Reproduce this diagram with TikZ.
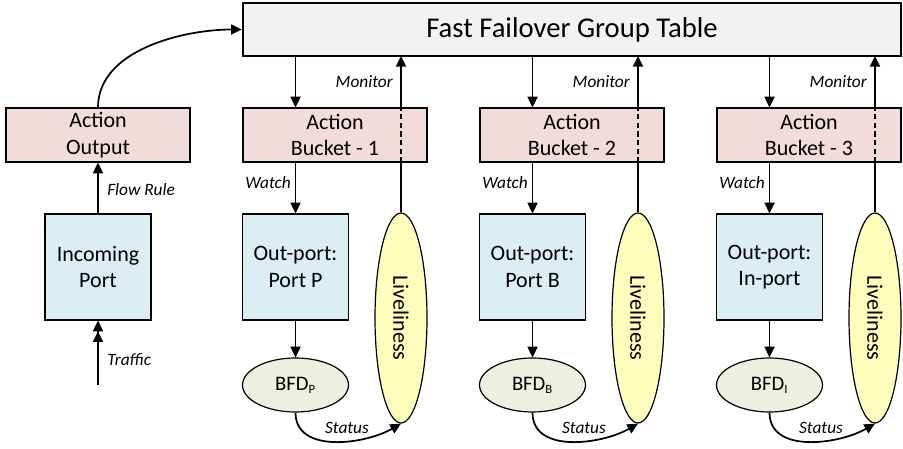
\documentclass[tikz,border=0pt]{standalone}
\usepackage{fontspec}
\setmainfont{Carlito}
\usetikzlibrary{arrows.meta,shapes.geometric}
\definecolor{tablefill}{HTML}{F2F2F2}
\definecolor{actfill}{HTML}{F2DCDB}
\definecolor{portfill}{HTML}{DAEEF3}
\definecolor{bfdfill}{HTML}{EBF1DE}
\definecolor{livefill}{HTML}{FFFDBB}
\tikzset{
  px/.style={x=0.75pt,y=-0.75pt},
  boxtext/.style={font=\fontsize{16.5}{20}\selectfont,align=center},
  tablebox/.style={draw,line width=1.8pt,fill=tablefill,minimum width=493.5pt,minimum height=39.75pt,inner sep=0pt,font=\fontsize{21.5}{24}\selectfont},
  actbox/.style={draw,line width=0.9pt,fill=actfill,minimum width=138pt,minimum height=40.5pt,inner sep=0pt,boxtext},
  portbox/.style={draw,line width=0.9pt,fill=portfill,minimum width=79.5pt,minimum height=79.5pt,inner sep=0pt,boxtext},
  bfdnode/.style={ellipse,draw,line width=0.9pt,fill=bfdfill,minimum width=79.5pt,minimum height=40.5pt,inner sep=0pt,font=\fontsize{15.5}{18}\selectfont},
  livenode/.style={ellipse,draw,line width=0.9pt,fill=livefill,minimum width=39pt,minimum height=157.5pt,inner sep=0pt},
  lbl/.style={font=\fontsize{13}{15}\selectfont\itshape,inner sep=0pt},
  conn/.style={line width=1.3pt,-{Triangle[width=7.5pt,length=8pt]}},
  plain/.style={line width=1.3pt},
}
\begin{document}
\begin{tikzpicture}[px]
\useasboundingbox (0,0) rectangle (903,449);
% table
\node[tablebox] (table) at (572,29.5) {Fast Failover Group Table};
% left column
\node[actbox] (aout) at (98,135) {Action\\Output};
\node[portbox] (inport) at (98,267) {Incoming\\Port};
\coordinate (trafficstart) at (98,385);
\draw[line width=1.3pt,-{Triangle[width=7.5pt,length=8pt]Triangle[width=7.5pt,length=8pt]}] (trafficstart) -- (inport.south);
\node[lbl,anchor=west] (traffic) at (107,360) {Traffic};
\draw[conn] (inport.north) -- (aout.south);
\node[lbl,anchor=west] (flow) at (107,190) {Flow Rule};
\draw[conn] (aout.north) to[out=90,in=180,looseness=0.9] (table.west);
% bucket columns
\foreach \i/\dx/\pname/\sub in {1/0/Port P/P,2/237/Port B/B,3/474/In-port/I}{
  \begin{scope}[xshift=\dx*0.75pt]
  \node[actbox] (b\i) at (335,135) {Action\\Bucket - \i};
  \node[portbox] (o\i) at (295.5,267) {Out-port:\\\pname};
  \node[bfdnode] (bfd\i) at (295.5,385) {BFD\textsubscript{\fontsize{9.5}{10}\selectfont\sub}};
  \node[livenode] (l\i) at (401,318) {};
  \node[rotate=-90,font=\fontsize{16.5}{20}\selectfont] (lt\i) at (l\i.center) {Liveliness};
  \coordinate (tabin\i) at (295.5,56);
  \draw[conn] (tabin\i) -- (b\i.north -| o\i.north);
  \draw[conn] (b\i.south -| o\i.north) -- (o\i.north);
  \draw[conn] (o\i.south) -- (bfd\i.north);
  \node[lbl,anchor=east] (w\i) at (291,183) {Watch};
  \draw[plain] (l\i.north) -- (b\i.south -| l\i.north);
  \draw[plain,dashed,dash pattern=on 4pt off 2.5pt] (b\i.south -| l\i.north) -- (b\i.north -| l\i.north);
  \coordinate (tabout\i) at (401,56);
  \draw[conn] (b\i.north -| l\i.north) -- (tabout\i);
  \node[lbl,anchor=east] (m\i) at (393,82) {Monitor};
  \draw[conn] (bfd\i.south) to[out=-90,in=-150] (l\i.south);
  \node[lbl] (s\i) at (347,428) {Status};
  \end{scope}
}
\end{tikzpicture}
\end{document}
